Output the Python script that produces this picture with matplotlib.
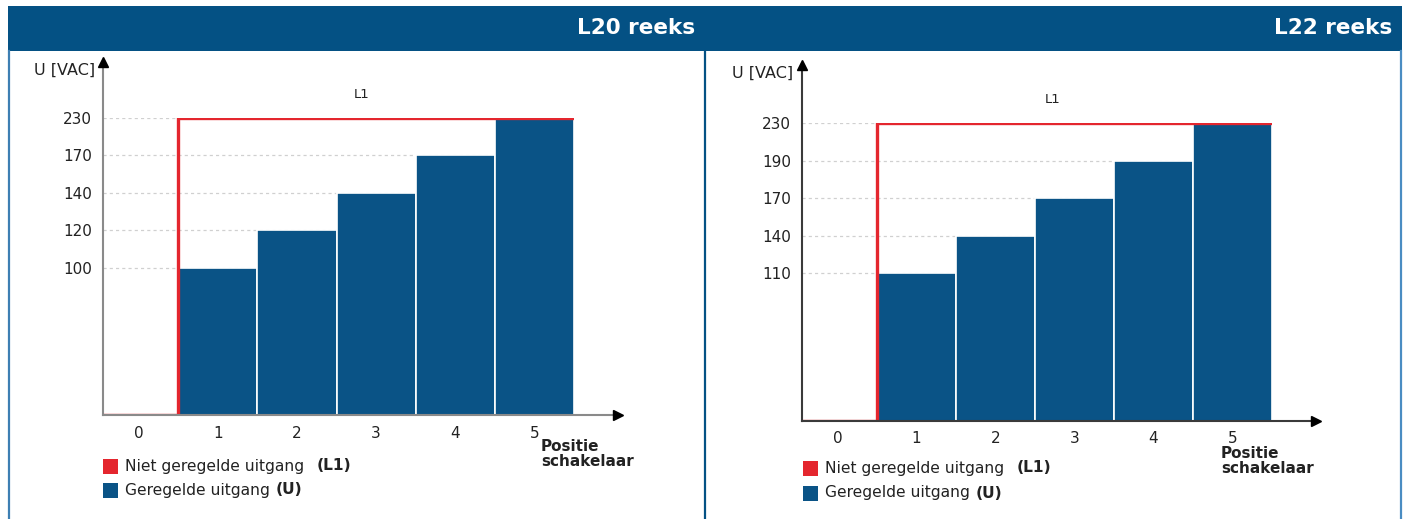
import numpy as np
import matplotlib
matplotlib.use("Agg")
import matplotlib.pyplot as plt
from matplotlib.patches import Rectangle
from matplotlib.lines import Line2D

# ---------------- data ----------------
positions = [0, 1, 2, 3, 4, 5]
pos_labels = ["0", "1", "2", "3", "4", "5"]

l20_title = "L20 reeks"
l20_u = [0, 100, 120, 140, 170, 230]
l20_l1 = [0, 230, 230, 230, 230, 230]
l20_ticks = [100, 120, 140, 170, 230]

l22_title = "L22 reeks"
l22_u = [0, 110, 140, 170, 190, 230]
l22_l1 = [0, 230, 230, 230, 230, 230]
l22_ticks = [110, 140, 170, 190, 230]

ylabel = "U [VAC]"
xlabel = "Positie\nschakelaar"
leg_l1 = ("Niet geregelde uitgang", "(L1)")
leg_u = ("Geregelde uitgang", "(U)")
l1_label = "L1"

# ---------------- style ----------------
W, H = 1408, 519
BLUE = "#0a5386"
HEAD = "#045184"
RED = "#e4262e"
GRID = "#d0d0d0"
TXT = "#222222"

plt.rcParams["font.family"] = ["DejaVu Sans"]
fig = plt.figure(figsize=(W / 100, H / 100), dpi=100)


def fx(x):
    return x / W


def fy(y):
    return 1 - y / H


# header band
fig.patches.append(Rectangle((fx(8), fy(51)), fx(1394), 45 / H, transform=fig.transFigure,
                             facecolor=HEAD, edgecolor="none", zorder=0))
# frame lines
for x, c in [(8.5, "#3d7fb3"), (705, HEAD), (1401, "#4a8cc2")]:
    fig.lines.append(Line2D([fx(x), fx(x)], [fy(51), 0], transform=fig.transFigure,
                            color=c, lw=1.6))

fig.text(fx(695), fy(28), l20_title, color="white", fontsize=15.5, fontweight="bold",
         ha="right", va="center")
fig.text(fx(1392), fy(28), l22_title, color="white", fontsize=15.5, fontweight="bold",
         ha="right", va="center")


def make_panel(x0, x1, ybase, ytop, arrow_x, arrow_y, u, l1, ticks, axcol, lbl_x, lbl_y,
               l1_x, xl_x, xl_y, leg_x, leg_y1, leg_y2, xpad):
    ax = fig.add_axes([fx(x0), fy(ybase), fx(x1 - x0), (ybase - ytop) / H])
    vk = [0] + ticks
    pk = [0] + list(np.linspace(0.495, 1.0, len(ticks)))

    def fwd(v):
        return np.interp(v, vk, pk)

    def inv(p):
        return np.interp(p, pk, vk)

    ax.set_yscale("function", functions=(fwd, inv))
    ax.set_ylim(0, ticks[-1])
    ax.set_xlim(-0.45, 5.5)
    for s in ax.spines.values():
        s.set_visible(False)
    ax.set_yticks(ticks)
    ax.set_yticklabels([str(t) for t in ticks])
    ax.set_xticks(positions)
    ax.set_xticklabels(pos_labels)
    ax.tick_params(axis="y", length=0, pad=8, labelsize=11, colors=TXT)
    ax.tick_params(axis="x", length=0, pad=xpad, labelsize=11, colors=TXT)
    ax.yaxis.grid(True, color=GRID, linestyle=(0, (2.5, 2.5)), lw=0.9)
    ax.set_axisbelow(True)

    ax.bar(positions, u, width=1.0, color=BLUE, edgecolor="white", linewidth=1.2, zorder=2)
    ax.stairs(l1, edges=np.arange(-0.5, 6.5), baseline=None, color=RED, lw=2.4, zorder=3)

    # axis lines with arrows
    ax.plot([0, arrow_x], [0, 0], transform=ax.transAxes, color=axcol, lw=1.5,
            clip_on=False, zorder=5)
    ax.plot([0, 0], [0, arrow_y], transform=ax.transAxes, color=axcol, lw=1.5,
            clip_on=False, zorder=5)
    ax.plot([arrow_x], [0], transform=ax.transAxes, marker=">", color="black",
            markersize=6.5, clip_on=False, zorder=6)
    ax.plot([0], [arrow_y], transform=ax.transAxes, marker="^", color="black",
            markersize=6.5, clip_on=False, zorder=6)

    ax.annotate(l1_label, xy=(l1_x, ticks[-1]), xytext=(0, 12), textcoords="offset points",
                ha="center", va="bottom", fontsize=9.5, color=TXT)

    fig.text(fx(lbl_x), fy(lbl_y), ylabel, fontsize=11.5, ha="right", va="center",
             color=TXT)
    fig.text(fx(xl_x), fy(xl_y), xlabel, fontsize=11, fontweight="bold", ha="left",
             va="top", color=TXT, linespacing=1.0)

    # legend
    sq = 15
    for yy, col, (t1, t2), gap in [(leg_y1, RED, leg_l1, 9), (leg_y2, BLUE, leg_u, 4)]:
        fig.patches.append(Rectangle((fx(leg_x), fy(yy + sq / 2)), fx(sq), sq / H,
                                     transform=fig.transFigure, facecolor=col,
                                     edgecolor="none"))
        t = fig.text(fx(leg_x + sq + 7), fy(yy), t1, fontsize=11.2, ha="left",
                     va="center", color=TXT)
        ax.annotate(t2, xy=(1, 0.5), xycoords=t, xytext=(gap, 0),
                    textcoords="offset points", ha="left", va="center",
                    fontsize=11.2, fontweight="bold", color=TXT,
                    annotation_clip=False)
    return ax


make_panel(103, 574, 415, 118, 1.093, 1.19, l20_u, l20_l1, l20_ticks, "#8a8a8a",
           95, 70, 2.82, 541, 439, 103, 466, 490, 8)
make_panel(802, 1272, 421, 123, 1.094, 1.195, l22_u, l22_l1, l22_ticks, "#3a3a3a",
           793, 73, 2.72, 1221, 446, 803, 468, 493, 7)

fig.savefig("out.png", dpi=100)
